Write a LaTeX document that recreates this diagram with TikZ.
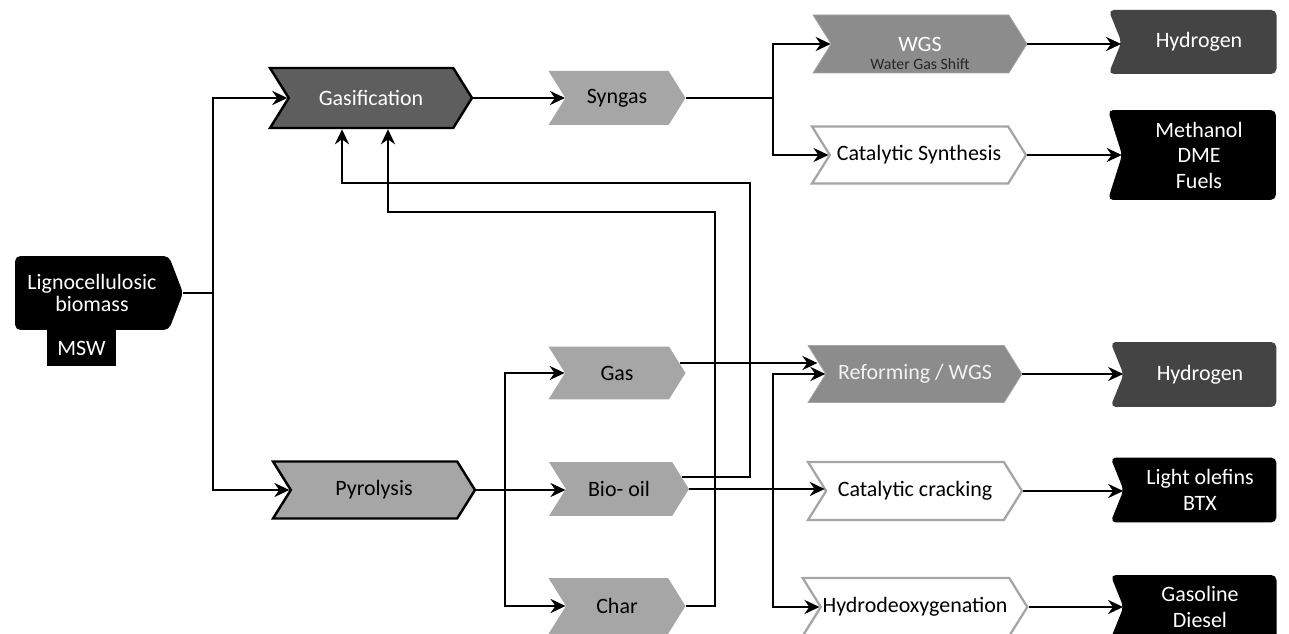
\documentclass[tikz,border=0pt]{standalone}
\usepackage{fontspec}
\setmainfont{Carlito}
\usetikzlibrary{shapes.symbols,arrows.meta}
\definecolor{darkstage}{RGB}{94,94,94}
\definecolor{midstage}{RGB}{140,140,140}
\definecolor{lightstage}{RGB}{166,166,166}
\definecolor{rimgray}{RGB}{165,165,165}
\definecolor{prodgray}{RGB}{68,68,68}

\begin{document}
\begin{tikzpicture}[x=0.02cm, y=-0.02cm,
  font=\fontsize{12.5}{14.5}\selectfont,
  every node/.style={align=center, inner sep=1pt},
  proc/.style={signal, signal to=east, signal from=west, signal pointer angle=116,
    minimum width=4.28cm, minimum height=1.16cm},
  main/.style={proc, minimum width=4.04cm, draw=black, line width=1.4pt},
  frac/.style={proc, minimum width=2.74cm, minimum height=1.08cm, fill=lightstage, text=black},
  route/.style={proc, draw=rimgray, line width=1.3pt, fill=white, text=black},
  prod/.style={signal, signal to=nowhere, signal from=west, signal pointer angle=136,
    rounded corners=3pt, minimum width=3.36cm, minimum height=1.3cm, text=white},
  arr/.style={-{Stealth[length=3mm,width=2.8mm]}, line width=1.5pt}]

\path[use as bounding box, fill=white] (0,0) rectangle (1289,634);

\node[fill=black, text=white, minimum width=1.38cm, minimum height=0.72cm] (msw) at (81.5,348) {MSW};
\node[signal, signal to=east, signal pointer angle=138, rounded corners=3pt, fill=black, text=white,
  minimum width=3.36cm, minimum height=1.48cm, font=\fontsize{12.5}{13}\selectfont] (bio) at (92,293) {Lignocellulosic\\biomass};

\node[main, fill=darkstage, text=white, minimum height=1.2cm] (gasif) at (371,98) {Gasification};
\node[main, fill=lightstage, text=black, minimum height=1.14cm] (pyro) at (374,490) {Pyrolysis};

\node[frac] (syngas) at (617,98) {Syngas};
\node[frac, minimum height=1.06cm] (gas) at (617,373) {Gas};
\node[frac, minimum width=2.8cm] (biooil) at (619,489) {Bio- oil};
\node[frac, minimum height=1.12cm] (char) at (617,606) {Char};

\node[proc, fill=midstage, draw=rimgray, text=white] (wgs) at (920,44) {WGS};
\node[anchor=south, text=black!85, font=\fontsize{9}{10}\selectfont] (wgssub) at ([yshift=0.04cm]wgs.south) {Water Gas Shift};
\node[route, minimum height=1.14cm] (catsyn) at (919,155) {Catalytic Synthesis};
\node[proc, fill=midstage, draw=rimgray, text=white!95!black, minimum height=1.14cm] (reform) at (915,374) {Reforming / WGS};
\node[route] (catcrack) at (915,491) {Catalytic cracking};
\node[route] (hdo) at (915,607) {Hydrodeoxygenation};

\node[prod, fill=prodgray, minimum height=1.28cm] (h2a) at (1199,42) {Hydrogen};
\node[prod, fill=black, minimum height=1.8cm, signal pointer angle=145] (meth) at (1199,155) {Methanol\\DME\\Fuels};
\node[prod, fill=prodgray, minimum width=3.32cm] (h2b) at (1200,374.5) {Hydrogen};
\node[prod, fill=black, minimum width=3.32cm] (olef) at (1200,490) {Light olefins\\BTX};
\node[prod, fill=black, minimum width=3.32cm, minimum height=1.28cm] (gasol) at (1200,607) {Gasoline\\Diesel};

\coordinate (jb) at (213,293);
\coordinate (js) at (773,98);
\coordinate (jp) at (505,490);
\coordinate (jo) at (773,490);
\coordinate (fa) at (750,183);
\coordinate (fc) at (715,212);

\draw[arr] (bio.east) -- (jb) |- (gasif.west);
\draw[arr] (jb) |- (pyro.west);
\draw[arr] (gasif.east) -- (gasif.east -| syngas.west);
\draw[arr] (syngas.east) -- (js) |- (wgs.west);
\draw[arr] (js) |- (catsyn.west);
\draw[arr] (wgs.east) -- (wgs.east -| h2a.west);
\draw[arr] (catsyn.east) -- (catsyn.east -| meth.west);

\draw[arr] (pyro.east) -- (pyro.east -| biooil.west);
\draw[arr] (jp) |- (gas.west);
\draw[arr] (jp) |- (char.west);
\draw[arr] ([xshift=-0.12cm,yshift=0.2cm]gas.east) -- ([xshift=-0.16cm,yshift=0.22cm]reform.west);
\draw[arr] (biooil.east) -- (biooil.east -| catcrack.west);
\draw[arr] (jo) |- (reform.west);
\draw[arr] (jo) |- (hdo.west);
\draw[arr] ([xshift=-0.14cm,yshift=0.24cm]biooil.east) -| (fa) -| ([xshift=-0.58cm]gasif.south);
\draw[arr] (char.east) -| (fc) -| ([xshift=0.34cm]gasif.south);

\draw[arr] (reform.east) -- (reform.east -| h2b.west);
\draw[arr] (catcrack.east) -- (catcrack.east -| olef.west);
\draw[arr] (hdo.east) -- (hdo.east -| gasol.west);
\end{tikzpicture}
\end{document}
